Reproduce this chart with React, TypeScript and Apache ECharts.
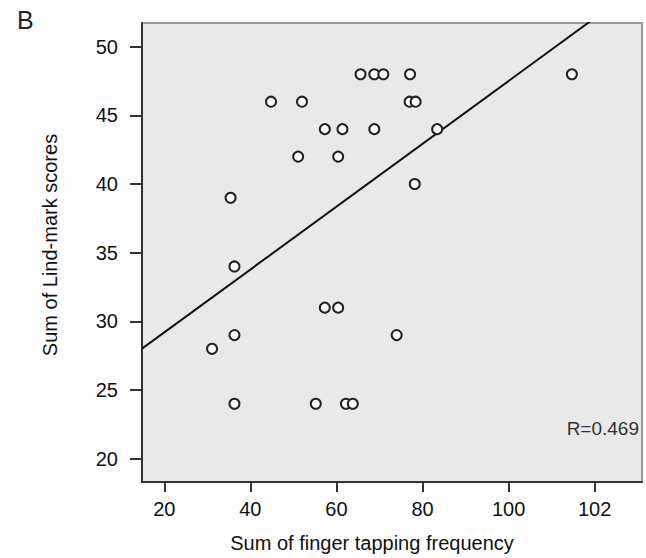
import React, { useEffect, useRef } from "react";
import * as echarts from "echarts";

// Scatter points: [finger tapping frequency, Lind-mark score]
const tappingX = [
  65.6, 68.8, 70.9, 77.1, 114.7,
  44.8, 52.0, 77.0, 78.4,
  57.3, 61.4, 68.8, 83.4,
  51.1, 60.4,
  35.4, 78.2,
  36.3,
  57.3, 60.4,
  36.3, 74.0,
  31.1,
  36.3, 55.2, 62.2, 63.8,
];
const lindScores = [
  48, 48, 48, 48, 48,
  46, 46, 46, 46,
  44, 44, 44, 44,
  42, 42,
  39, 40,
  34,
  31, 31,
  29, 29,
  28,
  24, 24, 24, 24,
];

// Fit line: y = intercept + slope * x
const fitIntercept = 24.62;
const fitSlope = 0.2289;

const xTickValues = [20, 40, 60, 80, 100, 120];
const xTickLabels = ["20", "40", "60", "80", "100", "102"];
const yTickValues = [20, 25, 30, 35, 40, 45, 50];
const yTickLabels = ["20", "25", "30", "35", "40", "45", "50"];

const xMin = 14.82;
const xMax = 131.0;
const yMin = 18.3;
const yMax = 51.73;

const FONT = "'Liberation Sans', Arial, sans-serif";

export default function App() {
  const ref = useRef<HTMLDivElement>(null);

  useEffect(() => {
    if (!ref.current) return;
    const chart = echarts.init(ref.current, undefined, { renderer: "svg" });
    const points = tappingX.map((x, i) => [x, lindScores[i]]);
    const fitLine = [xMin, xMax].map((x) => [x, fitIntercept + fitSlope * x]);

    chart.setOption({
      animation: false,
      backgroundColor: "#ffffff",
      grid: {
        left: 142,
        top: 23,
        right: 4,
        bottom: 76,
        show: true,
        backgroundColor: "#e9e9e9",
        borderColor: "#9a9a9a",
        borderWidth: 2,
      },
      xAxis: {
        type: "value",
        min: xMin,
        max: xMax,
        splitLine: { show: false },
        axisLine: { show: true, onZero: false, lineStyle: { color: "#333", width: 2 } },
        axisTick: {
          show: true,
          inside: false,
          length: 10,
          customValues: xTickValues,
          lineStyle: { color: "#333", width: 2 },
        },
        axisLabel: {
          customValues: xTickValues,
          formatter: (v: number) => {
            const i = xTickValues.indexOf(Math.round(v));
            return i >= 0 ? xTickLabels[i] : "";
          },
          color: "#111",
          fontSize: 20,
          fontFamily: FONT,
          margin: 17,
        },
      },
      yAxis: {
        type: "value",
        min: yMin,
        max: yMax,
        splitLine: { show: false },
        axisLine: { show: true, onZero: false, lineStyle: { color: "#333", width: 2 } },
        axisTick: {
          show: true,
          inside: false,
          length: 12,
          customValues: yTickValues,
          lineStyle: { color: "#333", width: 2 },
        },
        axisLabel: {
          customValues: yTickValues,
          formatter: (v: number) => {
            const i = yTickValues.indexOf(Math.round(v));
            return i >= 0 ? yTickLabels[i] : "";
          },
          color: "#111",
          fontSize: 20,
          fontFamily: FONT,
          margin: 24,
        },
      },
      series: [
        {
          type: "line",
          data: fitLine,
          showSymbol: false,
          symbol: "none",
          clip: true,
          lineStyle: { color: "#111", width: 2 },
          z: 2,
        },
        {
          type: "scatter",
          data: points,
          symbol: "circle",
          symbolSize: 10,
          itemStyle: { color: "#ffffff", borderColor: "#222", borderWidth: 2, opacity: 1 },
          z: 3,
        },
      ],
      graphic: [
        {
          type: "text",
          left: 17,
          top: 7,
          style: { text: "B", fontSize: 25, fontFamily: FONT, fill: "#222" },
        },
        {
          type: "text",
          x: 372,
          y: 543,
          style: {
            text: "Sum of finger tapping frequency",
            fontSize: 20,
            fontFamily: FONT,
            fill: "#111",
            align: "center",
            verticalAlign: "middle",
          },
        },
        {
          type: "text",
          x: 50,
          y: 245,
          rotation: Math.PI / 2,
          style: {
            text: "Sum of Lind-mark scores",
            fontSize: 20,
            fontFamily: FONT,
            fill: "#111",
            align: "center",
            verticalAlign: "middle",
          },
        },
        {
          type: "text",
          x: 639,
          y: 428,
          style: {
            text: "R=0.469",
            fontSize: 19,
            fontFamily: FONT,
            fill: "#333",
            align: "right",
            verticalAlign: "middle",
          },
        },
      ],
    });

    return () => chart.dispose();
  }, []);

  return (
    <div
      ref={ref}
      style={{ position: "fixed", left: 0, top: 0, width: 646, height: 558 }}
    />
  );
}
